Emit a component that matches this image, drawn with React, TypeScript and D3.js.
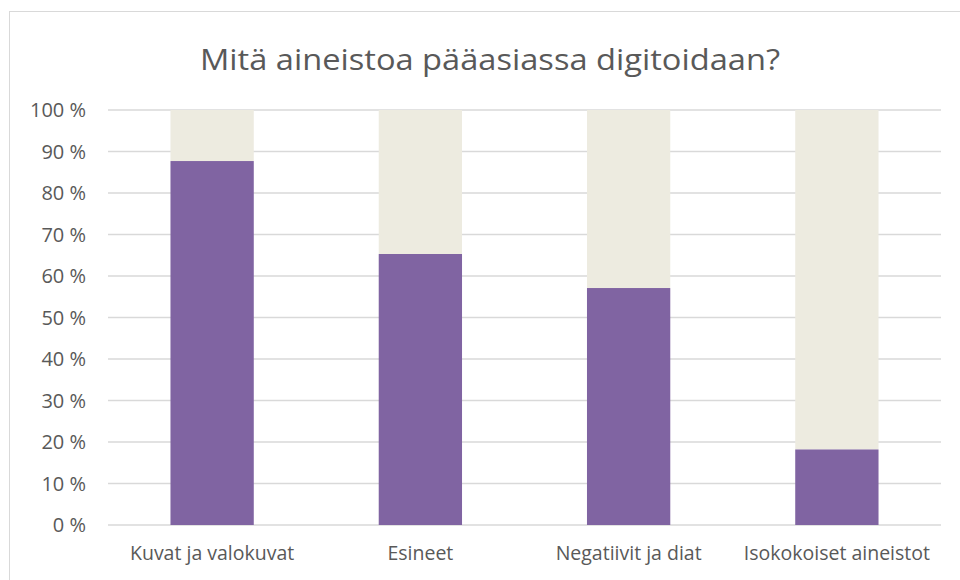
import React from "react";
import * as d3 from "d3";

const categories = ["Kuvat ja valokuvat", "Esineet", "Negatiivit ja diat", "Isokokoiset aineistot"];
const mainValues = [87.7, 65.3, 57.1, 18.2];
const yTicks = [0, 10, 20, 30, 40, 50, 60, 70, 80, 90, 100];
const title = "Mitä aineistoa pääasiassa digitoidaan?";

const W = 960;
const H = 580;
const plot = { left: 108, right: 941, top: 110, bottom: 525 };
const FONT = "'Open Sans', 'Noto Sans', sans-serif";

export default function App() {
  const x = d3
    .scaleBand<string>()
    .domain(categories)
    .range([plot.left, plot.right])
    .paddingInner(0.6)
    .paddingOuter(0.3);
  const y = d3.scaleLinear().domain([0, 100]).range([plot.bottom, plot.top]);

  return (
    <svg
      width={W}
      height={H}
      style={{ position: "absolute", left: 0, top: 0, background: "#fff" }}
    >
      <rect x={9.5} y={11.5} width={W} height={H} fill="#fff" stroke="#d9d9d9" strokeWidth={1} />
      <text
        x={490}
        y={70}
        textAnchor="middle"
        fontFamily={FONT}
        fontSize={30}
        textLength={580}
        lengthAdjust="spacingAndGlyphs"
        fill="#595959"
      >
        {title}
      </text>
      {yTicks.map((t) => (
        <g key={t}>
          <line
            x1={plot.left}
            x2={plot.right}
            y1={y(t)}
            y2={y(t)}
            stroke="#d9d9d9"
            strokeWidth={1.3}
          />
          <text
            x={86}
            y={y(t)}
            dy="0.36em"
            textAnchor="end"
            fontFamily={FONT}
            fontSize={20}
            fill="#595959"
          >
            {`${t} %`}
          </text>
        </g>
      ))}
      {categories.map((c, i) => (
        <g key={c}>
          <rect
            x={x(c)}
            y={y(100)}
            width={x.bandwidth()}
            height={y(mainValues[i]) - y(100)}
            fill="#edebe0"
          />
          <rect
            x={x(c)}
            y={y(mainValues[i])}
            width={x.bandwidth()}
            height={y(0) - y(mainValues[i])}
            fill="#8064a2"
          />
          <text
            x={(x(c) as number) + x.bandwidth() / 2}
            y={560}
            textAnchor="middle"
            fontFamily={FONT}
            fontSize={19.5}
            fill="#595959"
          >
            {c}
          </text>
        </g>
      ))}
    </svg>
  );
}
